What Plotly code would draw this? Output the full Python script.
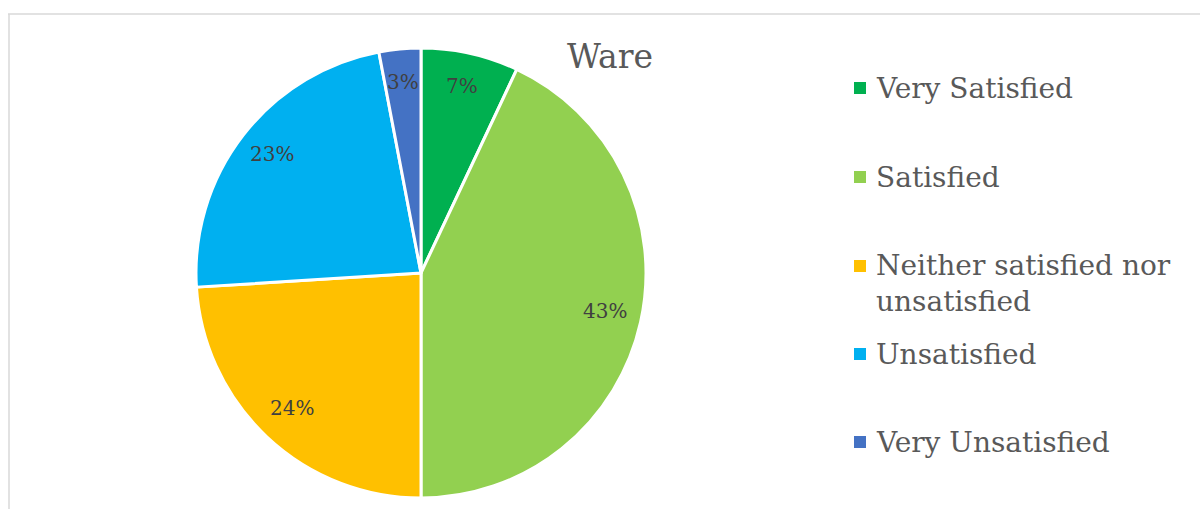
import math
import plotly.graph_objects as go

# Survey responses for "Ware"
categories = ["Very Satisfied", "Satisfied", "Neither satisfied nor unsatisfied",
              "Unsatisfied", "Very Unsatisfied"]
legend_labels = ["Very Satisfied", "Satisfied", "Neither satisfied nor<br>unsatisfied",
                 "Unsatisfied", "Very Unsatisfied"]
shares = [7, 43, 24, 23, 3]
colors = ["#00b050", "#92d050", "#ffc000", "#00b0f0", "#4472c4"]

W, H = 1200, 509
FONT = "DejaVu Serif"

# Pie placement in pixels
cx, cy, R = 421, 273, 225


def px(x):
    return x / W


def py(y):
    return 1 - y / H


fig = go.Figure()
fig.add_trace(go.Pie(
    labels=categories,
    values=shares,
    sort=False,
    direction="clockwise",
    rotation=0,
    marker=dict(colors=colors, line=dict(color="white", width=3)),
    textinfo="none",
    hoverinfo="label+percent",
    showlegend=False,
    domain=dict(x=[px(cx - R), px(cx + R)], y=[py(cy + R), py(cy - R)]),
))

annotations = []
shapes = []

# Percentage labels placed along each slice's bisector
total = sum(shares)
cum = 0
for v in shares:
    mid = (cum + v / 2) / total * 2 * math.pi
    cum += v
    r = 0.84 * R
    lx = cx + r * math.sin(mid)
    ly = cy - r * math.cos(mid)
    annotations.append(dict(
        x=px(lx), y=py(ly - 3), xref="paper", yref="paper",
        text=f"{round(v / total * 100)}%", showarrow=False,
        font=dict(family=FONT, size=20, color="#404040"),
        xanchor="center", yanchor="middle",
    ))

# Title
annotations.append(dict(
    x=px(610), y=py(57), xref="paper", yref="paper", text="Ware",
    showarrow=False, font=dict(family=FONT, size=33, color="#595959"),
    xanchor="center", yanchor="middle",
))

# Legend drawn as swatches plus text
legend_y = [88, 177, 266, 354, 442]
for lab, col, y in zip(legend_labels, colors, legend_y):
    shapes.append(dict(type="rect", xref="paper", yref="paper",
                       x0=px(854), x1=px(866), y0=py(y + 6), y1=py(y - 6),
                       fillcolor=col, line=dict(width=0)))
    two_line = "<br>" in lab
    annotations.append(dict(
        x=px(874), y=py(y - 19) if two_line else py(y), xref="paper", yref="paper",
        text=lab, showarrow=False, align="left",
        font=dict(family=FONT, size=28, color="#595959"),
        xanchor="left", yanchor="top" if two_line else "middle",
    ))

# Chart frame (top and left edges visible)
shapes.append(dict(type="line", xref="paper", yref="paper",
                   x0=px(8), x1=px(1200), y0=py(14), y1=py(14),
                   line=dict(color="#d9d9d9", width=1.5)))
shapes.append(dict(type="line", xref="paper", yref="paper",
                   x0=px(9), x1=px(9), y0=py(14), y1=py(509),
                   line=dict(color="#d9d9d9", width=1.5)))

fig.update_layout(
    width=W, height=H,
    margin=dict(l=0, r=0, t=0, b=0),
    paper_bgcolor="white", plot_bgcolor="white",
    annotations=annotations, shapes=shapes,
)

fig.write_html("out.html")
